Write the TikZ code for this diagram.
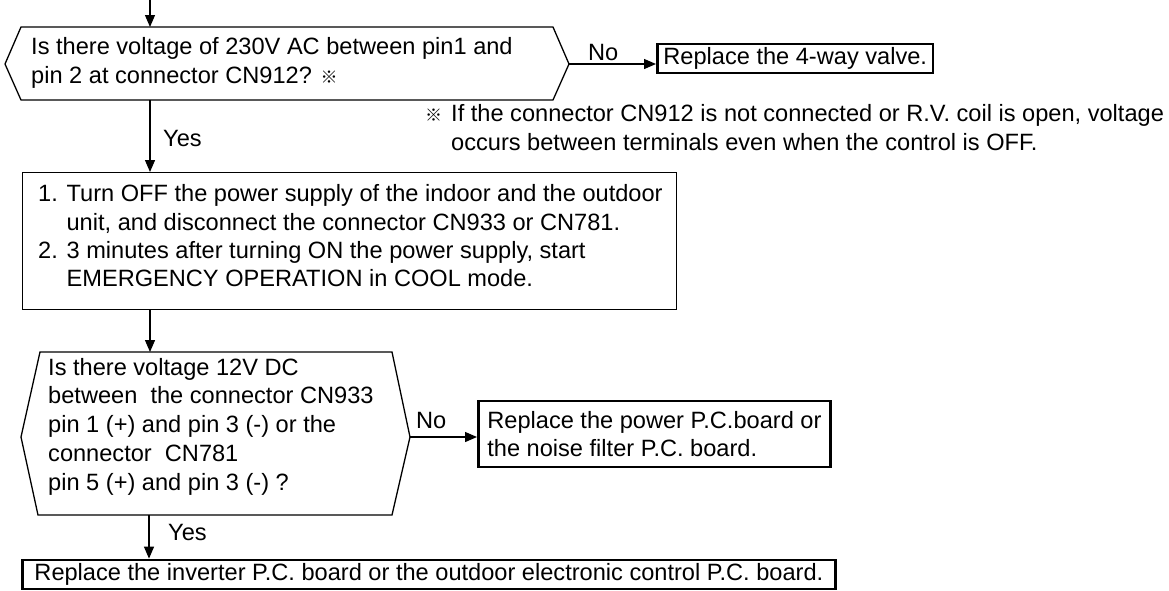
\documentclass[tikz,border=0pt]{standalone}
\usepackage{fontspec}
\setmainfont{Liberation Sans}
\newfontfamily\markfont{Noto Sans CJK JP}
\usetikzlibrary{arrows.meta, positioning}

\begin{document}
\begin{tikzpicture}[
    x=1pt, y=-1pt,
    every node/.style={font=\fontsize{23.6}{28.8}\selectfont, inner sep=0pt},
    txt/.style={anchor=north west, align=left},
    thin/.style={line width=1.3pt},
    box/.style={draw, line width=2.8pt, inner xsep=6pt, anchor=west},
    arr/.style={thin, -{Triangle[length=12pt, width=10pt]}},
  ]
  \useasboundingbox (0,0) rectangle (1169,590);
  % first check
  \coordinate (start) at (150,0);
  \draw[thin] (21,27) -- (553,27) -- (569,64) coordinate (qaeast)
    -- (553,100) -- (21,100) -- (5,64) -- cycle;
  \coordinate (qatop) at (150,27);
  \coordinate (qabot) at (150,100);
  \node[txt] (qatext) at (31,37) {Is there voltage of 230V AC between pin1 and\\
    pin 2 at connector CN912? {\markfont\fontsize{17}{17}\selectfont ※}};
  \node[box, minimum height=29pt, minimum width=266pt] (valve) at (656,58.5) {Replace the 4-way valve.};
  \node[anchor=base west] (no1) at (588,60) {No};
  \node[anchor=base west] (mark) at (425,121) {\markfont\fontsize{17}{17}\selectfont ※};
  \node[txt] (note) at (451,104) {If the connector CN912 is not connected or R.V. coil is open, voltage\\
    occurs between terminals even when the control is OFF.};
  % steps
  \node[draw, thin, anchor=north west, minimum width=654pt, minimum height=137pt] (steps) at (22,172) {};
  \node[txt, font=\fontsize{23.6}{28.3}\selectfont] (stepstext) at (38,184.4)
    {1. Turn OFF the power supply of the indoor and the outdoor\\
    \phantom{1. }unit, and disconnect the connector CN933 or CN781.\\
    2. 3 minutes after turning ON the power supply, start\\
    \phantom{2. }EMERGENCY OPERATION in COOL mode.};
  \node[anchor=base west] (yes1) at (163,146) {Yes};
  % second check
  \draw[thin] (40,352) -- (392,352) -- (410,437) coordinate (qbeast)
    -- (392,515) -- (38,515) -- (21,437) -- cycle;
  \coordinate (qbtop) at (150,352);
  \coordinate (qbbot) at (149,515);
  \node[txt] (qbtext) at (48,357.8)
    {Is there voltage 12V DC\\
    between\ \ the connector CN933\\
    pin 1 (+) and pin 3 (-) or the\\
    connector\ \ CN781\\
    pin 5 (+) and pin 3 (-) ?};
  \node[box, align=left, minimum height=66pt, minimum width=352pt] (power) at (477,434)
    {Replace the power P.C.board or\\the noise filter P.C. board.};
  \node[anchor=base west] (no2) at (416,428.5) {No};
  \node[anchor=base west] (yes2) at (168,540) {Yes};
  \node[box, minimum height=29pt, minimum width=813pt] (inverter) at (21,574.5)
    {Replace the inverter P.C. board or the outdoor electronic control P.C. board.};
  % connectors
  \draw[arr] (start) -- (qatop);
  \draw[arr] (qaeast) -- (valve.west |- qaeast);
  \draw[arr] (qabot) -- (qabot |- steps.north);
  \draw[arr] (qabot |- steps.south) -- (qbtop);
  \draw[arr] (qbeast) -- (power.west |- qbeast);
  \draw[arr] (qbbot) -- (qbbot |- inverter.north);
\end{tikzpicture}
\end{document}
